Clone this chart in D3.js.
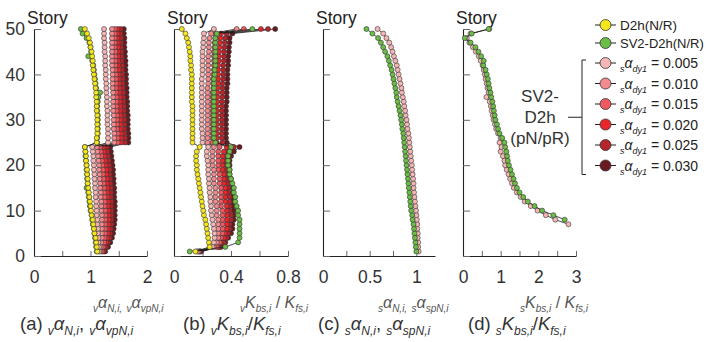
<!DOCTYPE html>
<html>
<head>
<meta charset="utf-8">
<script src="https://cdn.jsdelivr.net/npm/d3@7"></script>
<style>
  body { margin: 0; background: #fff; }
  svg { font-family: "Liberation Sans", Arial, sans-serif; }
  text { white-space: pre; }
</style>
</head>
<body>
<svg id="chart" width="707" height="342"></svg>
<script>
// stories 1..50 (bottom to top)
const stories = [
  1, 2, 3, 4, 5, 6, 7, 8, 9, 10, 11, 12, 13, 14, 15, 16, 17, 18, 19, 20,
  21, 22, 23, 24, 25, 26, 27, 28, 29, 30, 31, 32, 33, 34, 35, 36, 37, 38, 39, 40,
  41, 42, 43, 44, 45, 46, 47, 48, 49, 50
];

const seriesKeys = ["D2h", "SV2", "s005", "s010", "s015", "s020", "s025", "s030"];
const seriesColors = ["#f3e61c", "#6cbd45", "#f7b6b6", "#f28b8f", "#ee5a60", "#e8262c", "#b5252b", "#6a1a1e"];
const redValues = ["0.005", "0.010", "0.015", "0.020", "0.025", "0.030"];

// (a) vaN,i, vavpN,i
const aD2h = [
  1.12, 1.11, 1.10, 1.09, 1.07, 1.06, 1.05, 1.04, 1.02, 1.01,
  1.00, 0.99, 0.98, 0.97, 0.96, 0.95, 0.95, 0.94, 0.94, 0.93,
  0.92, 0.92, 0.91, 0.90, 1.11, 1.11, 1.12, 1.12, 1.12, 1.12,
  1.12, 1.11, 1.11, 1.11, 1.10, 1.10, 1.09, 1.08, 1.07, 1.06,
  1.05, 1.04, 1.04, 1.03, 1.02, 1.00, 0.99, 0.97, 0.94, 0.90
];
const aSV2 = [
  1.11, 1.10, 1.09, 1.08, 1.07, 1.06, 1.04, 1.03, 1.02, 1.00,
  0.99, 0.98, 0.97, 0.96, 0.93, 0.95, 0.94, 0.94, 0.93, 0.93,
  0.92, 0.91, 0.91, 0.90, 1.12, 1.12, 1.13, 1.13, 1.13, 1.13,
  1.13, 1.12, 1.12, 1.13, 1.14, 1.17, 1.10, 1.09, 1.08, 1.07,
  1.06, 1.05, 1.03, 0.96, 1.01, 1.00, 0.98, 0.93, 0.86, 0.83
];
const a005 = [
  1.15, 1.15, 1.14, 1.14, 1.13, 1.13, 1.12, 1.12, 1.11, 1.11,
  1.10, 1.10, 1.09, 1.09, 1.08, 1.08, 1.07, 1.07, 1.06, 1.06,
  1.05, 1.05, 1.04, 1.03, 1.31, 1.31, 1.31, 1.31, 1.30, 1.30,
  1.30, 1.30, 1.29, 1.29, 1.29, 1.28, 1.28, 1.28, 1.27, 1.27,
  1.27, 1.26, 1.26, 1.26, 1.25, 1.25, 1.25, 1.24, 1.24, 1.24
];
const a010 = [
  1.17, 1.18, 1.19, 1.20, 1.20, 1.20, 1.20, 1.20, 1.20, 1.19,
  1.19, 1.19, 1.18, 1.18, 1.17, 1.17, 1.16, 1.16, 1.15, 1.15,
  1.14, 1.13, 1.12, 1.11, 1.42, 1.42, 1.42, 1.41, 1.41, 1.41,
  1.41, 1.40, 1.40, 1.40, 1.40, 1.40, 1.39, 1.39, 1.39, 1.39,
  1.39, 1.38, 1.38, 1.38, 1.38, 1.38, 1.38, 1.38, 1.38, 1.38
];
const a015 = [
  1.20, 1.22, 1.24, 1.25, 1.26, 1.26, 1.26, 1.26, 1.26, 1.26,
  1.25, 1.25, 1.25, 1.24, 1.24, 1.23, 1.23, 1.22, 1.22, 1.21,
  1.20, 1.19, 1.18, 1.17, 1.48, 1.48, 1.48, 1.47, 1.47, 1.47,
  1.47, 1.46, 1.46, 1.46, 1.46, 1.45, 1.45, 1.45, 1.45, 1.45,
  1.44, 1.44, 1.44, 1.44, 1.44, 1.43, 1.43, 1.43, 1.43, 1.43
];
const a020 = [
  1.22, 1.25, 1.28, 1.30, 1.31, 1.31, 1.32, 1.32, 1.32, 1.32,
  1.31, 1.31, 1.31, 1.30, 1.30, 1.29, 1.29, 1.28, 1.28, 1.27,
  1.26, 1.25, 1.24, 1.23, 1.54, 1.54, 1.54, 1.53, 1.53, 1.53,
  1.53, 1.52, 1.52, 1.52, 1.52, 1.51, 1.51, 1.51, 1.50, 1.50,
  1.50, 1.49, 1.49, 1.49, 1.49, 1.49, 1.48, 1.48, 1.48, 1.48
];
const a025 = [
  1.24, 1.28, 1.31, 1.34, 1.35, 1.36, 1.37, 1.37, 1.37, 1.37,
  1.37, 1.37, 1.36, 1.36, 1.36, 1.35, 1.35, 1.34, 1.34, 1.33,
  1.32, 1.31, 1.30, 1.29, 1.61, 1.61, 1.60, 1.60, 1.60, 1.60,
  1.59, 1.59, 1.59, 1.58, 1.58, 1.58, 1.57, 1.57, 1.57, 1.56,
  1.56, 1.56, 1.55, 1.55, 1.55, 1.54, 1.54, 1.54, 1.53, 1.53
];
const a030 = [
  1.26, 1.31, 1.35, 1.38, 1.40, 1.41, 1.42, 1.43, 1.43, 1.43,
  1.43, 1.43, 1.42, 1.42, 1.42, 1.41, 1.41, 1.40, 1.40, 1.39,
  1.38, 1.37, 1.36, 1.35, 1.67, 1.67, 1.67, 1.66, 1.66, 1.66,
  1.66, 1.65, 1.65, 1.65, 1.64, 1.64, 1.64, 1.63, 1.63, 1.63,
  1.62, 1.62, 1.62, 1.61, 1.61, 1.60, 1.60, 1.60, 1.59, 1.59
];

// (b) vKbs,i / Kfs,i
const bD2h = [
  0.15, 0.25, 0.245, 0.24, 0.235, 0.23, 0.225, 0.22, 0.21, 0.205,
  0.20, 0.195, 0.19, 0.185, 0.18, 0.175, 0.17, 0.165, 0.16, 0.16,
  0.155, 0.155, 0.16, 0.18, 0.13, 0.13, 0.13, 0.13, 0.13, 0.13,
  0.13, 0.13, 0.13, 0.125, 0.125, 0.125, 0.125, 0.125, 0.125, 0.125,
  0.12, 0.12, 0.115, 0.115, 0.11, 0.105, 0.10, 0.09, 0.08, 0.055
];
const bSV2 = [
  0.11, 0.36, 0.45, 0.46, 0.46, 0.46, 0.46, 0.46, 0.45, 0.45,
  0.44, 0.43, 0.43, 0.42, 0.42, 0.41, 0.40, 0.39, 0.39, 0.38,
  0.38, 0.38, 0.39, 0.40, 0.29, 0.28, 0.28, 0.28, 0.28, 0.28,
  0.28, 0.28, 0.28, 0.28, 0.28, 0.28, 0.28, 0.28, 0.28, 0.285,
  0.285, 0.29, 0.29, 0.29, 0.29, 0.29, 0.29, 0.29, 0.30, 0.55
];
const b005 = [
  0.16, 0.27, 0.28, 0.285, 0.285, 0.28, 0.275, 0.27, 0.265, 0.26,
  0.26, 0.255, 0.255, 0.25, 0.25, 0.245, 0.245, 0.24, 0.24, 0.24,
  0.235, 0.23, 0.23, 0.24, 0.20, 0.20, 0.20, 0.195, 0.195, 0.195,
  0.195, 0.195, 0.195, 0.195, 0.195, 0.195, 0.195, 0.195, 0.195, 0.20,
  0.20, 0.20, 0.20, 0.20, 0.20, 0.205, 0.205, 0.21, 0.21, 0.28
];
const b010 = [
  0.17, 0.28, 0.30, 0.31, 0.31, 0.31, 0.31, 0.31, 0.30, 0.30,
  0.30, 0.29, 0.29, 0.29, 0.29, 0.28, 0.28, 0.28, 0.28, 0.27,
  0.27, 0.27, 0.27, 0.28, 0.235, 0.235, 0.235, 0.235, 0.235, 0.235,
  0.235, 0.235, 0.235, 0.235, 0.235, 0.235, 0.235, 0.24, 0.24, 0.24,
  0.24, 0.24, 0.24, 0.24, 0.245, 0.245, 0.245, 0.25, 0.26, 0.44
];
const b015 = [
  0.175, 0.30, 0.32, 0.33, 0.34, 0.34, 0.34, 0.34, 0.34, 0.34,
  0.33, 0.33, 0.33, 0.33, 0.33, 0.32, 0.32, 0.32, 0.31, 0.31,
  0.31, 0.31, 0.31, 0.32, 0.27, 0.27, 0.27, 0.27, 0.27, 0.27,
  0.27, 0.27, 0.27, 0.27, 0.27, 0.27, 0.275, 0.275, 0.275, 0.275,
  0.28, 0.28, 0.28, 0.28, 0.28, 0.285, 0.285, 0.29, 0.29, 0.49
];
const b020 = [
  0.18, 0.31, 0.33, 0.35, 0.36, 0.37, 0.37, 0.37, 0.37, 0.37,
  0.37, 0.36, 0.36, 0.36, 0.36, 0.35, 0.35, 0.35, 0.34, 0.34,
  0.34, 0.34, 0.35, 0.37, 0.30, 0.30, 0.30, 0.30, 0.30, 0.30,
  0.30, 0.30, 0.30, 0.30, 0.305, 0.305, 0.305, 0.31, 0.31, 0.31,
  0.31, 0.31, 0.315, 0.315, 0.315, 0.32, 0.32, 0.325, 0.33, 0.61
];
const b025 = [
  0.185, 0.32, 0.35, 0.37, 0.38, 0.39, 0.39, 0.40, 0.40, 0.39,
  0.39, 0.39, 0.39, 0.38, 0.38, 0.38, 0.37, 0.37, 0.37, 0.36,
  0.36, 0.37, 0.38, 0.42, 0.34, 0.335, 0.335, 0.335, 0.335, 0.335,
  0.335, 0.335, 0.335, 0.335, 0.34, 0.34, 0.34, 0.34, 0.345, 0.345,
  0.345, 0.345, 0.35, 0.35, 0.35, 0.355, 0.355, 0.36, 0.37, 0.66
];
const b030 = [
  0.19, 0.33, 0.36, 0.38, 0.40, 0.41, 0.41, 0.42, 0.42, 0.42,
  0.41, 0.41, 0.41, 0.41, 0.41, 0.40, 0.40, 0.39, 0.39, 0.39,
  0.39, 0.40, 0.42, 0.46, 0.37, 0.365, 0.365, 0.365, 0.365, 0.365,
  0.365, 0.365, 0.365, 0.37, 0.37, 0.37, 0.37, 0.375, 0.375, 0.375,
  0.375, 0.38, 0.38, 0.38, 0.385, 0.385, 0.39, 0.39, 0.41, 0.71
];

// (c) saN,i, saspN,i
const cSV2 = [
  1.00, 0.995, 0.99, 0.985, 0.98, 0.975, 0.97, 0.96, 0.955, 0.945,
  0.94, 0.935, 0.93, 0.925, 0.92, 0.915, 0.91, 0.905, 0.90, 0.895,
  0.89, 0.885, 0.88, 0.875, 0.87, 0.865, 0.86, 0.85, 0.845, 0.838,
  0.83, 0.82, 0.81, 0.80, 0.79, 0.785, 0.775, 0.765, 0.755, 0.745,
  0.735, 0.72, 0.705, 0.69, 0.665, 0.645, 0.62, 0.59, 0.53, 0.465
];
const c005 = [
  1.025, 1.02, 1.02, 1.015, 1.015, 1.01, 1.01, 1.005, 1.00, 0.997,
  0.99, 0.985, 0.98, 0.975, 0.97, 0.97, 0.965, 0.96, 0.955, 0.952,
  0.945, 0.94, 0.935, 0.93, 0.925, 0.92, 0.915, 0.905, 0.90, 0.895,
  0.885, 0.88, 0.87, 0.865, 0.855, 0.845, 0.84, 0.83, 0.82, 0.81,
  0.80, 0.79, 0.775, 0.76, 0.745, 0.73, 0.71, 0.68, 0.645, 0.585
];

// (d) sKbs,i / Kfs,i  (lowest stories fall outside the axis)
const dSV2 = [
  null, null, null, null, null, null, null, 2.70, 2.40, 2.10,
  1.90, 1.72, 1.60, 1.50, 1.43, 1.38, 1.34, 1.30, 1.26, 1.22,
  1.19, 1.17, 1.15, 1.12, 1.10, 1.04, 0.97, 0.93, 0.90, 0.86,
  0.84, 0.82, 0.80, 0.78, 0.75, 0.73, 0.70, 0.68, 0.66, 0.63,
  0.60, 0.54, 0.55, 0.48, 0.41, 0.33, 0.20, 0.05, 0.23, 0.68
];
const d005 = [
  null, null, null, null, null, null, 2.80, 2.45, 2.20, 1.98,
  1.80, 1.64, 1.53, 1.43, 1.35, 1.30, 1.25, 1.21, 1.16, 1.12,
  1.10, 1.06, 1.00, 1.02, 0.97, 1.00, 0.93, 0.88, 0.85, 0.81,
  0.79, 0.76, 0.74, 0.71, 0.62, 0.68, 0.65, 0.63, 0.60, 0.58,
  0.55, 0.52, 0.47, 0.42, 0.34, 0.26, 0.17, 0.10, 0.20, 0.70
];

const aTicks = [0, 0.5, 1, 1.5, 2];
const aLabels = [0, 1, 2];
const bTicks = [0, 0.2, 0.4, 0.6, 0.8];
const bLabels = [0, 0.4, 0.8];
const cTicks = [0, 0.25, 0.5, 0.75, 1];
const cLabels = [0, 0.5, 1];
const dTicks = [0, 0.5, 1, 1.5, 2, 2.5, 3];
const dLabels = [0, 1, 2, 3];
const storyTicks = [0, 10, 20, 30, 40, 50];

const color = d3.scaleOrdinal().domain(seriesKeys).range(seriesColors);

const svg = d3.select("#chart");
const y = d3.scaleLinear().domain([0, 50]).range([256, 29]);

// write a label with italic symbols and lowered subscripts
function rich(parent, x, yy, parts, size, fill) {
  const t = parent.append("text")
    .attr("x", x)
    .attr("y", yy)
    .attr("fill", fill)
    .style("font-size", size + "px");
  let shift = 0;
  parts.forEach(function (p) {
    const sub = p[1] === "sub";
    const target = sub ? Math.round(size * 0.25) : 0;
    t.append("tspan")
      .attr("dy", target - shift)
      .style("font-size", (sub ? Math.round(size * 0.64) : size) + "px")
      .style("font-style", p[1] === "n" ? "normal" : "italic")
      .text(p[0]);
    shift = target;
  });
  return t;
}

const panels = [
  {
    range: [34, 147], domain: [0, 2], ticks: aTicks, labels: aLabels, yLabels: true,
    series: [["s030", a030], ["s025", a025], ["s020", a020], ["s015", a015], ["s010", a010], ["s005", a005], ["SV2", aSV2], ["D2h", aD2h]],
    title: { x: 93, parts: [["v", "sub"], ["α", "i"], ["N,i,", "sub"], [" ", "n"], ["v", "sub"], ["α", "i"], ["vpN,i", "sub"]] },
    caption: { x: 20, parts: [["(a) ", "n"], ["v", "sub"], ["α", "i"], ["N,i", "sub"], [", ", "n"], ["v", "sub"], ["α", "i"], ["vpN,i", "sub"]] }
  },
  {
    range: [174, 288], domain: [0, 0.8], ticks: bTicks, labels: bLabels, yLabels: false,
    series: [["s030", b030], ["s025", b025], ["s020", b020], ["s015", b015], ["s010", b010], ["s005", b005], ["SV2", bSV2], ["D2h", bD2h]],
    title: { x: 240, parts: [["v", "sub"], ["K", "i"], ["bs,i", "sub"], [" / ", "n"], ["K", "i"], ["fs,i", "sub"]] },
    caption: { x: 183, parts: [["(b) ", "n"], ["v", "sub"], ["K", "i"], ["bs,i", "sub"], ["/", "n"], ["K", "i"], ["fs,i", "sub"]] }
  },
  {
    range: [323, 435], domain: [0, 1.2], ticks: cTicks, labels: cLabels, yLabels: false,
    series: [["s005", c005], ["SV2", cSV2]],
    title: { x: 378, parts: [["s", "sub"], ["α", "i"], ["N,i,", "sub"], [" ", "n"], ["s", "sub"], ["α", "i"], ["spN,i", "sub"]] },
    caption: { x: 318, parts: [["(c) ", "n"], ["s", "sub"], ["α", "i"], ["N,i", "sub"], [", ", "n"], ["s", "sub"], ["α", "i"], ["spN,i", "sub"]] }
  },
  {
    range: [463, 576], domain: [0, 3], ticks: dTicks, labels: dLabels, yLabels: false,
    series: [["s005", d005], ["SV2", dSV2]],
    title: { x: 520, parts: [["s", "sub"], ["K", "i"], ["bs,i", "sub"], [" / ", "n"], ["K", "i"], ["fs,i", "sub"]] },
    caption: { x: 468, parts: [["(d) ", "n"], ["s", "sub"], ["K", "i"], ["bs,i", "sub"], ["/", "n"], ["K", "i"], ["fs,i", "sub"]] }
  }
];

panels.forEach(function (p) {
  const x = d3.scaleLinear().domain(p.domain).range(p.range);
  const g = svg.append("g");

  // x axis, ticks pointing inward
  const xAxis = g.append("g")
    .attr("transform", "translate(0," + y(0) + ")")
    .call(d3.axisBottom(x)
      .tickValues(p.ticks)
      .tickSizeInner(-5)
      .tickSizeOuter(0)
      .tickPadding(15)
      .tickFormat(function (d) { return p.labels.indexOf(d) >= 0 ? String(d) : ""; }));

  // y axis
  const yAxis = g.append("g")
    .attr("transform", "translate(" + p.range[0] + ",0)")
    .call(d3.axisLeft(y)
      .tickValues(storyTicks)
      .tickSizeInner(-7)
      .tickSizeOuter(0)
      .tickPadding(9)
      .tickFormat(function (d) { return p.yLabels ? String(d) : ""; }));

  [xAxis, yAxis].forEach(function (ax) {
    ax.select(".domain").attr("stroke", "#222").attr("stroke-width", 1.1);
    ax.selectAll(".tick line").attr("stroke", "#666");
    ax.selectAll(".tick text")
      .attr("fill", "#333")
      .style("font-size", "17.5px")
      .style("font-family", "'Liberation Sans', Arial, sans-serif");
  });

  g.append("text")
    .attr("x", p.range[0] - 7)
    .attr("y", 24)
    .attr("fill", "#222")
    .style("font-size", "17.5px")
    .text("Story");

  const line = d3.line()
    .defined(function (d) { return d.v != null; })
    .x(function (d) { return x(d.v); })
    .y(function (d) { return y(d.s); });

  p.series.forEach(function (s) {
    const pts = stories.map(function (st, i) { return { s: st, v: s[1][i] }; });
    g.append("path")
      .datum(pts)
      .attr("d", line)
      .attr("fill", "none")
      .attr("stroke", "#1a1a1a")
      .attr("stroke-width", 0.8);
    g.selectAll(null)
      .data(pts.filter(function (d) { return d.v != null; }))
      .enter()
      .append("circle")
      .attr("cx", function (d) { return x(d.v); })
      .attr("cy", function (d) { return y(d.s); })
      .attr("r", 2.5)
      .attr("fill", color(s[0]))
      .attr("stroke", "#333")
      .attr("stroke-width", 0.6);
  });

  rich(g, p.title.x, 308, p.title.parts, 16, "#555");
  rich(g, p.caption.x, 330, p.caption.parts, 18.5, "#333");
});

// Legend
const legend = svg.append("g");
const legendRows = seriesKeys.map(function (k, i) {
  return { key: k, y: i < 2 ? 25 + i * 18 : 63 + (i - 2) * 20.5 };
});
legendRows.forEach(function (r, i) {
  legend.append("line")
    .attr("x1", 595).attr("x2", 616)
    .attr("y1", r.y).attr("y2", r.y)
    .attr("stroke", "#222").attr("stroke-width", 1);
  legend.append("circle")
    .attr("cx", 605.5).attr("cy", r.y).attr("r", 5.5)
    .attr("fill", color(r.key))
    .attr("stroke", "#333").attr("stroke-width", 0.8);
  if (i === 0) {
    rich(legend, 620, r.y + 5, [["D2h(N/R)", "n"]], 13.5, "#222");
  } else if (i === 1) {
    rich(legend, 620, r.y + 5, [["SV2-D2h(N/R)", "n"]], 13, "#222");
  } else {
    rich(legend, 620, r.y + 5, [["s", "sub"], ["α", "i"], ["dy1", "sub"], [" = " + redValues[i - 2], "n"]], 14, "#222");
  }
});

// bracket grouping the red series
const brTop = legendRows[2].y - 3, brBot = legendRows[7].y + 9, brMid = (brTop + brBot) / 2;
legend.append("path")
  .attr("d", "M586," + brTop + "H582V" + brBot + "H586M582," + brMid + "H568")
  .attr("fill", "none")
  .attr("stroke", "#222")
  .attr("stroke-width", 1);

const groupText = legend.append("text")
  .attr("text-anchor", "middle")
  .attr("fill", "#333")
  .style("font-size", "17px");
["SV2-", "D2h", "(pN/pR)"].forEach(function (t, i) {
  groupText.append("tspan")
    .attr("x", 540)
    .attr("y", brMid - 15 + i * 21)
    .text(t);
});
</script>
</body>
</html>
